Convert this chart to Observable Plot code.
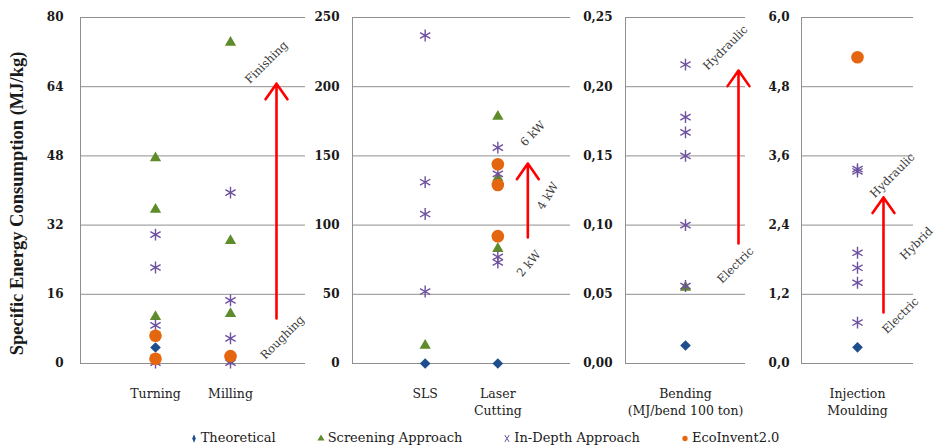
<!DOCTYPE html>
<html><head><meta charset="utf-8">
<script src="https://cdn.jsdelivr.net/npm/d3@7"></script>
<script src="https://cdn.jsdelivr.net/npm/@observablehq/plot@0.6"></script>
<style>
body{margin:0;background:#fff;}
#chart{position:relative;width:938px;height:448px;overflow:hidden;font-family:"DejaVu Serif",serif;}
#chart svg.panel{position:absolute;top:0;overflow:visible;}
#legend{position:absolute;top:430px;left:0;width:938px;box-sizing:border-box;padding-left:30px;display:flex;justify-content:center;gap:40px;font-family:"DejaVu Serif",serif;font-size:13px;color:#1a1a1a;line-height:16px;}
#legend span.it{display:flex;align-items:center;gap:2px;white-space:nowrap;}
</style></head><body><div id="chart"></div>
<script>
// ---- data ----
const categories = ["Turning", "Milling", "SLS", "Laser Cutting", "Bending", "Injection Moulding"];
const categoryLabels = ["Turning", "Milling", "SLS", "Laser\nCutting", "Bending\n(MJ/bend 100 ton)", "Injection\nMoulding"];

const theoretical = [["Turning", 3.7], ["Milling", 0.8], ["SLS", 0], ["Laser Cutting", 0], ["Bending", 0.013], ["Injection Moulding", 0.28]];
const screening = [["Turning", 47.5], ["Turning", 35.6], ["Turning", 10.8], ["Milling", 74.2], ["Milling", 28.4], ["Milling", 11.5],
  ["SLS", 13], ["Laser Cutting", 178.5], ["Laser Cutting", 134], ["Laser Cutting", 83], ["Bending", 0.055]];
const inDepth = [["Turning", 29.8], ["Turning", 22.2], ["Turning", 8.8], ["Turning", 0.2], ["Milling", 39.5], ["Milling", 14.6], ["Milling", 5.8], ["Milling", 0.2],
  ["SLS", 237], ["SLS", 131], ["SLS", 108], ["SLS", 52], ["Laser Cutting", 156], ["Laser Cutting", 137], ["Laser Cutting", 77], ["Laser Cutting", 73],
  ["Bending", 0.216], ["Bending", 0.178], ["Bending", 0.167], ["Bending", 0.150], ["Bending", 0.100], ["Bending", 0.056],
  ["Injection Moulding", 3.33], ["Injection Moulding", 3.37], ["Injection Moulding", 1.92], ["Injection Moulding", 1.66], ["Injection Moulding", 1.40], ["Injection Moulding", 0.71]];
const ecoInvent = [["Turning", 6.4], ["Turning", 1.1], ["Milling", 1.7], ["Laser Cutting", 144], ["Laser Cutting", 129], ["Laser Cutting", 92], ["Injection Moulding", 5.31]];

const ticks1 = [0, 16, 32, 48, 64, 80];
const ticks2 = [0, 50, 100, 150, 200, 250];
const ticks3 = [0, 0.05, 0.10, 0.15, 0.20, 0.25];
const ticks4 = [0, 1.2, 2.4, 3.6, 4.8, 6.0];
const yTitle = "Specific Energy Consumption (MJ/kg)";

// annotations: [text, category, value]
const notes1 = [["Finishing", "Milling", 69.6], ["Roughing", "Milling", 6.0]];
const notes2 = [["6 kW", "Laser Cutting", 166], ["4 kW", "Laser Cutting", 121], ["2 kW", "Laser Cutting", 72]];
const notes3 = [["Hydraulic", "Bending", 0.228], ["Electric", "Bending", 0.071]];
const notes4 = [["Hydraulic", "Injection Moulding", 3.26], ["Hybrid", "Injection Moulding", 2.08], ["Electric", "Injection Moulding", 0.83]];
// arrows: [category, from, to]
const arrows = [["Milling", 10.4, 64.7], ["Laser Cutting", 91, 144.5], ["Bending", 0.0867, 0.2117], ["Injection Moulding", 0.884, 2.88]];

// ---- styling / layout ----
const series = [
  {name: "Theoretical", data: theoretical, symbol: "diamond2", r: 4.8, fill: "#1F4E8C"},
  {name: "Screening Approach", data: screening, symbol: "triangle", r: 4.2, fill: "#5E8C2A"},
  {name: "In-Depth Approach", data: inDepth, symbol: "asterisk", r: 5.6, stroke: "#6E519F"},
  {name: "EcoInvent2.0", data: ecoInvent, symbol: "circle", r: 6.3, fill: "#E4670F"}
];
const comma = (digits) => (d) => d.toFixed(digits).replace(".", ",");
const panels = [
  {cats: categories.slice(0, 2), left: 0, width: 305, ml: 80, mr: 0, ticks: ticks1, fmt: (d) => String(d), tp: 17,
   notes: notes1, noteDx: [36, 52], noteRot: [-45, -45], arrow: arrows[0], arrowDx: 46, title: true},
  {cats: categories.slice(2, 4), left: 305, width: 265, ml: 47, mr: 0, ticks: ticks2, fmt: (d) => String(d), tp: 13,
   notes: notes2, noteDx: [35, 50, 31], noteRot: [-45, -58, -50], arrow: arrows[1], arrowDx: 30},
  {cats: categories.slice(4, 5), left: 570, width: 175, ml: 55, mr: 0, ticks: ticks3, fmt: comma(2), tp: 13,
   notes: notes3, noteDx: [40, 50], noteRot: [-45, -45], arrow: arrows[2], arrowDx: 53},
  {cats: categories.slice(5, 6), left: 745, width: 193, ml: 56, mr: 25, ticks: ticks4, fmt: comma(1), tp: 12,
   notes: notes4, noteDx: [35, 59, 43], noteRot: [-45, -45, -45], arrow: arrows[3], arrowDx: 26}
];

const chart = document.getElementById("chart");
for (const p of panels) {
  // categories sit at positions 1..n on a linear x scale spanning 0..n+1
  const pos = (c) => p.cats.indexOf(c) + 1;
  const y0 = p.ticks[0], y1 = p.ticks[p.ticks.length - 1];
  const rowsFor = (s) => s.data.filter((d) => p.cats.includes(d[0])).map((d) => ({cat: d[0], v: d[1]}));
  const marks = [
    Plot.ruleY(p.ticks, {stroke: "#8f8f8f", strokeWidth: 1}),
    Plot.ruleX([0], {y1: y0, y2: y1, stroke: "#8f8f8f", strokeWidth: 1}),
    Plot.axisY({ticks: p.ticks, tickFormat: p.fmt, tickSize: 0, tickPadding: p.tp, fontWeight: "bold", fontSize: 12, fill: "#1a1a1a", label: null}),
    Plot.text(p.cats, {x: pos, text: (d) => categoryLabels[categories.indexOf(d)], frameAnchor: "bottom", lineAnchor: "top", dy: 22, fontSize: 12.5, lineHeight: 1.4, fill: "#222"})
  ];
  for (const s of series) {
    marks.push(Plot.dot(rowsFor(s), {x: (d) => pos(d.cat), y: "v", symbol: () => s.symbol, r: s.r,
      fill: s.fill ?? "none", stroke: s.stroke ?? "none", strokeWidth: s.stroke ? 1.4 : 0}));
  }
  marks.push(Plot.arrow([p.arrow], {x1: (d) => pos(d[0]), x2: (d) => pos(d[0]), y1: (d) => d[1], y2: (d) => d[2], dx: p.arrowDx,
    stroke: "#FF0000", strokeWidth: 2.6, headLength: 11, headAngle: 70}));
  p.notes.forEach((n, i) => {
    marks.push(Plot.text([n], {x: (d) => pos(d[1]), y: (d) => d[2], text: (d) => d[0], dx: p.noteDx[i], rotate: p.noteRot[i] ?? -45, fontSize: 11.5, fill: "#3a3a3a"}));
  });
  if (p.title) {
    marks.push(Plot.text([yTitle], {frameAnchor: "left", textAnchor: "middle", dx: -63, dy: 13, rotate: -90, fontSize: 18.5, fontWeight: "bold",
      fontFamily: "Liberation Serif, serif", fill: "#1a1a1a", text: (d) => d}));
  }
  const svg = Plot.plot({
    width: p.width, height: 420, marginLeft: p.ml, marginRight: p.mr, marginTop: 17, marginBottom: 57,
    x: {type: "linear", domain: [0, p.cats.length + 1], axis: null},
    y: {domain: [y0, y1], axis: null},
    style: {fontFamily: "DejaVu Serif, serif", overflow: "visible", background: "transparent"},
    marks
  });
  svg.classList.add("panel");
  svg.style.left = p.left + "px";
  chart.appendChild(svg);
}

// legend
const legend = document.createElement("div");
legend.id = "legend";
for (const s of series) {
  const it = document.createElement("span");
  it.className = "it";
  const sym = d3.create("svg").attr("width", 10).attr("height", 12);
  const path = d3.symbol(s.symbol === "diamond2" ? d3.symbolDiamond : s.symbol === "triangle" ? d3.symbolTriangle : s.symbol === "asterisk" ? d3.symbolTimes : d3.symbolCircle, 22)();
  sym.append("path").attr("d", path).attr("transform", "translate(5,6.5) scale(" + (s.symbol === "asterisk" ? "0.8,1.2" : s.symbol === "diamond2" ? "0.7,1" : "1,1") + ")")
    .attr("fill", s.fill ?? "none").attr("stroke", s.stroke ?? "none").attr("stroke-width", 1);
  it.appendChild(sym.node());
  const t = document.createElement("span");
  t.textContent = s.name;
  it.appendChild(t);
  legend.appendChild(it);
}
chart.appendChild(legend);
</script></body></html>
